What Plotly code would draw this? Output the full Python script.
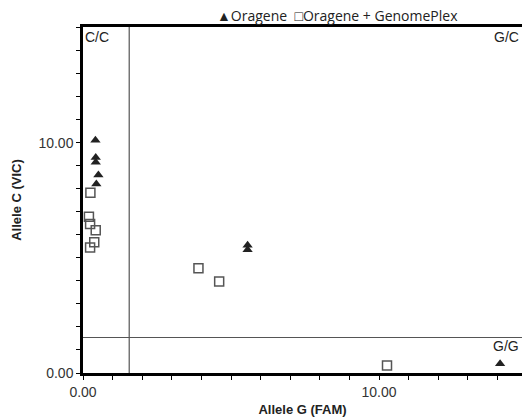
import plotly.graph_objects as go

# Oragene (filled triangles)
oragene_x = [0.42, 0.43, 0.43, 0.52, 0.45, 5.56, 5.56, 14.09]
oragene_y = [10.1, 9.35, 9.15, 8.6, 8.2, 5.55, 5.35, 0.4]

# Oragene + GenomePlex (open squares)
genplex_x = [0.25, 0.2, 0.24, 0.43, 0.38, 0.24, 3.9, 4.6, 10.27]
genplex_y = [7.82, 6.78, 6.47, 6.2, 5.68, 5.45, 4.55, 3.97, 0.33]

threshold_x = 1.56
threshold_y = 1.54

x_ticks = list(range(0, 15))
x_tick_text = ["0.00" if v == 0 else ("10.00" if v == 10 else "") for v in x_ticks]
y_ticks = list(range(0, 16))
y_tick_text = ["0.00" if v == 0 else ("10.00" if v == 10 else "") for v in y_ticks]

FONT = "Arial"

fig = go.Figure()
fig.add_trace(go.Scatter(
    x=oragene_x, y=oragene_y, mode="markers", name="Oragene",
    marker=dict(symbol="triangle-up", size=9, color="#222222"),
))
fig.add_trace(go.Scatter(
    x=genplex_x, y=genplex_y, mode="markers", name="Oragene + GenomePlex",
    marker=dict(symbol="square-open", size=9, color="#555555", line=dict(width=1.5)),
))

fig.add_shape(type="line", xref="x", yref="paper", x0=threshold_x, x1=threshold_x, y0=0, y1=1,
              line=dict(color="#333333", width=1))
fig.add_shape(type="line", xref="paper", yref="y", x0=0, x1=1, y0=threshold_y, y1=threshold_y,
              line=dict(color="#555555", width=1.2))

ann_font = dict(family=FONT, size=14, color="#222222")
fig.add_annotation(text="C/C", xref="paper", yref="paper", x=0.0, y=1.0,
                   xanchor="left", yanchor="top", showarrow=False, font=ann_font)
fig.add_annotation(text="G/C", xref="paper", yref="paper", x=1.0, y=1.0, xshift=-1,
                   xanchor="right", yanchor="top", showarrow=False, font=ann_font)
fig.add_annotation(text="G/G", xref="paper", yref="paper", x=1.0, y=0.05, xshift=-1,
                   xanchor="right", yanchor="bottom", showarrow=False, font=ann_font)

# legend drawn as a compact text key (matches reference spacing)
fig.add_annotation(text="▲Oragene  □Oragene + GenomePlex", xref="paper", yref="paper",
                   x=0.5786, y=1.033, xanchor="center", yanchor="middle", showarrow=False,
                   font=dict(family="Open Sans", size=14, color="#222222"))

fig.update_layout(
    width=522, height=419,
    margin=dict(l=83, r=0, t=27, b=46),
    paper_bgcolor="white", plot_bgcolor="white",
    showlegend=False,
    xaxis=dict(
        range=[0, 14.83], showgrid=False, zeroline=False,
        showline=True, linecolor="black", linewidth=2.5, mirror=True,
        ticks="outside", ticklen=4, tickcolor="black", tickwidth=1,
        tickvals=x_ticks, ticktext=x_tick_text,
        tickfont=dict(family=FONT, size=14, color="#333333"),
        title=dict(text="<b>Allele G (FAM)</b>", standoff=7,
                   font=dict(family=FONT, size=13, color="#222222")),
    ),
    yaxis=dict(
        range=[0, 15.02], showgrid=False, zeroline=False,
        showline=True, linecolor="black", linewidth=2.5,
        ticks="outside", ticklen=4, tickcolor="black", tickwidth=1,
        tickvals=y_ticks, ticktext=y_tick_text,
        tickfont=dict(family=FONT, size=14, color="#333333"),
        title=dict(text="<b>Allele C (VIC)</b>", standoff=14,
                   font=dict(family=FONT, size=13, color="#222222")),
    ),
)

# remove the browser's default page margin so the figure fills the window exactly
fig.write_html("out.html", config={"displayModeBar": False},
               post_script="document.body.style.margin='0';document.body.style.overflow='hidden';")
